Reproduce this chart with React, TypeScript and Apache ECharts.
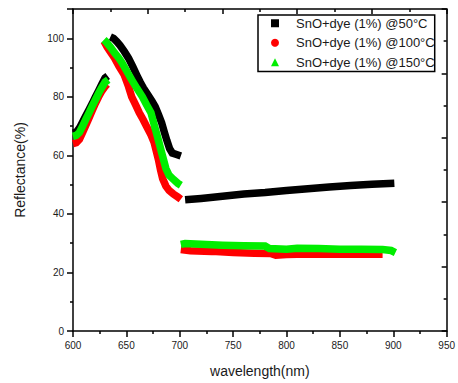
import React, { useEffect, useRef } from "react";
import * as echarts from "echarts";

// Series names (legend)
const seriesNames = ["SnO+dye (1%) @50°C", "SnO+dye (1%) @100°C", "SnO+dye (1%) @150°C"];
const seriesColors = ["#000000", "#ff0000", "#00ee00"];
const legendIcons = ["rect", "circle", "triangle"];

// 50°C (black) — three measured segments [wavelength nm, reflectance %]
const s50Rise: [number, number][] = [
  [600, 67.6], [603, 67.9], [606, 69.3], [609, 71.4], [612, 73.5], [615, 75.6],
  [618, 77.7], [621, 80], [624, 82.1], [627, 84.3], [630, 86.4], [632.5, 87.1],
];
const s50Fall: [number, number][] = [
  [635, 100.5], [638, 100], [641, 98.9], [644, 97.6], [648, 95.5], [652, 93.2],
  [656, 90.3], [660, 87.2], [663, 85], [666, 83], [670, 80.8], [674, 78.5],
  [677, 76.6], [680, 74], [683, 71.2], [685.5, 68], [688, 65], [690.5, 62.3],
  [693, 60.8], [697, 60.3], [701, 59.8],
];
const s50Tail: [number, number][] = [
  [705, 44.8], [720, 45.3], [740, 46], [760, 46.8], [780, 47.3], [800, 48],
  [820, 48.6], [840, 49.2], [860, 49.7], [880, 50.1], [901, 50.5],
];

// 100°C (red)
const s100Rise: [number, number][] = [
  [600, 64], [603, 64.3], [606, 65.5], [609, 67.8], [612, 70.3], [615, 72.8],
  [618, 75.3], [621, 77.8], [624, 80], [627, 82], [630, 83.5], [632, 84.3],
];
const s100Fall: [number, number][] = [
  [629, 99], [632, 97], [636, 94.8], [639, 93.2], [643, 90.5], [648, 87.5],
  [652, 83.5], [655, 80], [659, 77], [662, 74.6], [666, 72], [669, 69.8],
  [673, 67], [676, 64.4], [678, 61.5], [680, 58.6], [682, 55], [684, 52],
  [687, 49.5], [690, 48], [694, 46.8], [698, 45.8], [701, 45],
];
const s100Tail: [number, number][] = [
  [701, 27.8], [710, 27.4], [730, 27.2], [750, 26.8], [770, 26.6], [785, 26.5],
  [790, 25.9], [800, 26.1], [820, 26.3], [840, 26.2], [860, 26.2], [880, 26.2], [890, 26.2],
];

// 150°C (green)
const s150Rise: [number, number][] = [
  [600, 66.5], [603, 66.8], [606, 67.8], [609, 70], [612, 72.3], [615, 74.5],
  [618, 76.8], [621, 79], [624, 81.2], [627, 83.2], [630, 85], [633, 85.8],
];
const s150Fall: [number, number][] = [
  [629, 99.5], [631, 98.8], [635, 97], [639, 95], [643, 93.2], [646, 91.6],
  [650, 89], [655, 85.8], [660, 82.8], [665, 80], [669, 77.2], [673, 74.6],
  [676, 70.5], [679, 66.5], [683, 61], [687, 55.5], [690, 53.2], [694, 51.8],
  [698, 50.5], [701, 49.8],
];
const s150Tail: [number, number][] = [
  [701, 29.6], [705, 29.9], [720, 29.6], [740, 29.3], [760, 29.1], [780, 29],
  [784, 28.2], [800, 27.9], [810, 28.3], [830, 28.2], [850, 27.9], [870, 27.9],
  [890, 27.8], [898, 27.5], [902, 26.8],
];

const segmentsBySeries: [number, number][][][] = [
  [s50Rise, s50Fall, s50Tail],
  [s100Rise, s100Fall, s100Tail],
  [s150Rise, s150Fall, s150Tail],
];

const FONT = "Liberation Sans, Arial, sans-serif";

export default function App() {
  const ref = useRef<HTMLDivElement>(null);
  useEffect(() => {
    if (!ref.current) return;
    const chart = echarts.init(ref.current, null, { renderer: "svg" });
    const series: any[] = [];
    segmentsBySeries.forEach((segs, si) => {
      segs.forEach((seg) => {
        series.push({
          type: "line",
          name: seriesNames[si],
          data: seg,
          xAxisIndex: 0,
          yAxisIndex: 0,
          showSymbol: false,
          symbol: legendIcons[si],
          itemStyle: { color: seriesColors[si] },
          lineStyle: { color: seriesColors[si], width: 7.5, cap: "butt", join: "miter" },
          emphasis: { disabled: true },
        });
      });
    });
    const axisLine = { show: true, onZero: false, lineStyle: { color: "#000", width: 1.5 } };
    const labelStyle = { fontSize: 10, color: "#1a1a1a", fontFamily: FONT };
    chart.setOption({
      animation: false,
      backgroundColor: "#fff",
      grid: { left: 73, right: 7, top: 9, bottom: 51 },
      legend: {
        orient: "vertical",
        left: 258,
        top: 15,
        padding: [1, 0, 2, 13],
        itemGap: 5,
        itemWidth: 8,
        itemHeight: 8,
        borderColor: "#000",
        borderWidth: 1.5,
        selectedMode: false,
        textStyle: { fontSize: 13, color: "#1a1a1a", fontFamily: FONT, padding: [0, 0, 0, 12], lineHeight: 14.5 },
        data: seriesNames.map((n, i) => ({ name: n, icon: legendIcons[i], itemStyle: { color: seriesColors[i] } })),
      },
      xAxis: [
        {
          type: "value",
          position: "bottom",
          min: 600,
          max: 950,
          interval: 50,
          axisLine,
          axisTick: { show: true, inside: false, length: 6, lineStyle: { color: "#000", width: 1.5 } },
          minorTick: { show: true, splitNumber: 2, length: 3, lineStyle: { color: "#000", width: 1.5 } },
          splitLine: { show: false },
          axisLabel: { ...labelStyle, margin: 9 },
          name: "wavelength(nm)",
          nameLocation: "middle",
          nameGap: 33,
          nameTextStyle: { fontSize: 14, color: "#1a1a1a", fontFamily: FONT },
        },
        {
          type: "value",
          position: "top",
          min: 0,
          max: 5,
          interval: 1,
          axisLine,
          axisTick: { show: true, inside: true, length: 5, lineStyle: { color: "#000", width: 1.5 } },
          minorTick: { show: true, splitNumber: 2, length: 3, lineStyle: { color: "#000", width: 1.5 } },
          splitLine: { show: false },
          axisLabel: { show: false },
        },
      ],
      yAxis: [
        {
          type: "value",
          position: "left",
          min: 0,
          max: 110,
          interval: 20,
          axisLine,
          axisTick: { show: true, inside: false, length: 6, lineStyle: { color: "#000", width: 1.5 } },
          minorTick: { show: true, splitNumber: 2, length: 3, lineStyle: { color: "#000", width: 1.5 } },
          splitLine: { show: false },
          axisLabel: { ...labelStyle, margin: 9, showMaxLabel: false },
          name: "Reflectance(%)",
          nameLocation: "middle",
          nameGap: 46,
          nameTextStyle: { fontSize: 14, color: "#1a1a1a", fontFamily: FONT },
        },
        {
          type: "value",
          position: "right",
          min: 0,
          max: 10,
          interval: 2,
          axisLine,
          axisTick: { show: true, inside: true, length: 5, lineStyle: { color: "#000", width: 1.5 } },
          minorTick: { show: true, splitNumber: 2, length: 3, lineStyle: { color: "#000", width: 1.5 } },
          splitLine: { show: false },
          axisLabel: { show: false },
        },
      ],
      series,
    });
    return () => chart.dispose();
  }, []);
  return <div ref={ref} style={{ position: "fixed", left: 0, top: 0, width: 458, height: 383 }} />;
}
